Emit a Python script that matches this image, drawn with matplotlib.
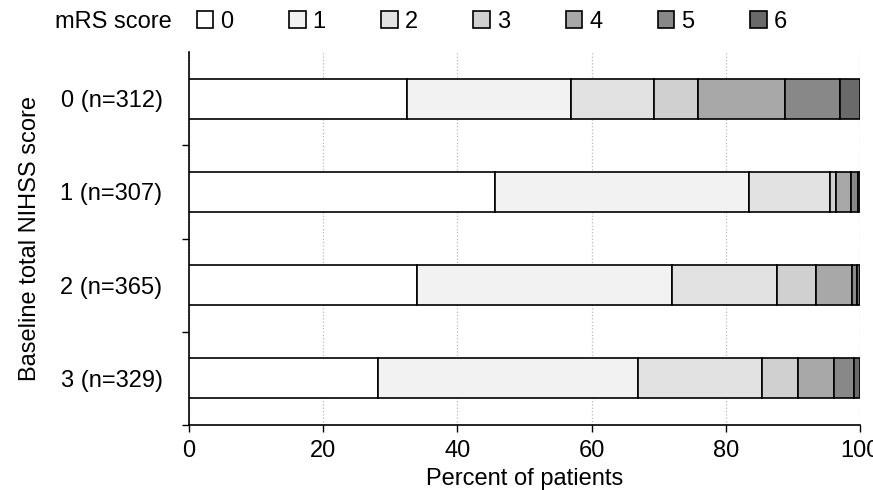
import numpy as np
import matplotlib
matplotlib.use("Agg")
import matplotlib.pyplot as plt

plt.rcParams['font.family'] = ['Liberation Sans', 'DejaVu Sans']

groups = ['0 (n=312)', '1 (n=307)', '2 (n=365)', '3 (n=329)']
mrs_scores = ['0', '1', '2', '3', '4', '5', '6']
# percent of patients per mRS score, one list per NIHSS group
pct_nihss0 = [32.5, 24.5, 12.3, 6.6, 13.0, 8.1, 3.0]
pct_nihss1 = [45.6, 37.9, 12.1, 0.8, 2.2, 1.1, 0.3]
pct_nihss2 = [34.0, 38.0, 15.6, 5.9, 5.3, 0.8, 0.4]
pct_nihss3 = [28.2, 38.7, 18.5, 5.4, 5.3, 3.0, 0.9]

colors = ['white', '#f2f2f2', '#e2e2e2', '#d0d0d0', '#a8a8a8', '#888888', '#6a6a6a']

data = np.array([pct_nihss0, pct_nihss1, pct_nihss2, pct_nihss3])
y = np.arange(len(groups))

fig = plt.figure(figsize=(8.73, 4.9), dpi=100)
ax = fig.add_axes([0.2165, 0.1327, 0.7685, 0.761])

left = np.zeros(len(groups))
for i, score in enumerate(mrs_scores):
    ax.barh(y, data[:, i], left=left, height=0.43, color=colors[i],
            edgecolor='black', linewidth=1.2, label=score, zorder=3)
    left += data[:, i]

ax.set_xlim(0, 100)
ax.set_ylim(3.5, -0.5)
ax.set_xticks([0, 20, 40, 60, 80, 100])
ax.set_yticks(y)
ax.set_yticklabels(groups)
ax.set_yticks([0.5, 1.5, 2.5, 3.5], minor=True)
ax.tick_params(axis='y', which='major', length=0, pad=19, labelsize=17)
ax.tick_params(axis='y', which='minor', length=5, width=1, direction='out')
ax.tick_params(axis='x', length=5, width=1, direction='out', labelsize=17, pad=6)

ax.grid(axis='x', color='#bbbbbb', linestyle=':', linewidth=0.9)
ax.set_axisbelow(True)
for s in ['top', 'right']:
    ax.spines[s].set_visible(False)
for s in ['left', 'bottom']:
    ax.spines[s].set_linewidth(1.2)

ax.set_xlabel('Percent of patients', fontsize=17, labelpad=4)
ax.set_ylabel('Baseline total NIHSS score', fontsize=17, labelpad=14)

fig.text(55 / 873, 1 - 22 / 490, 'mRS score', fontsize=17, va='center', ha='left')
fig.legend(loc='center left', bbox_to_anchor=(185 / 873, 1 - 22 / 490), ncol=7,
           frameon=False, fontsize=17, borderpad=0, handlelength=0.7,
           handleheight=0.7, handletextpad=0.3, columnspacing=2.35)

fig.savefig('out.png', dpi=100)
